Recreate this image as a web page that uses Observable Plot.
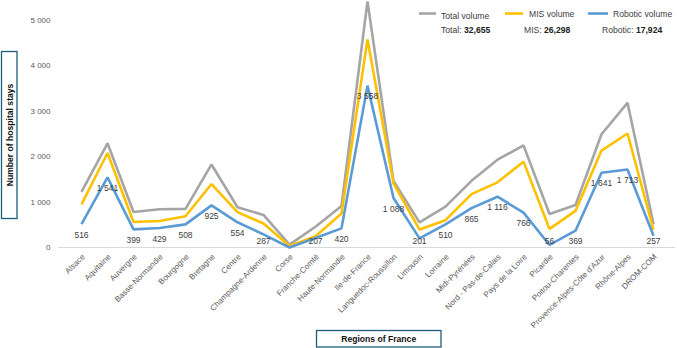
<!DOCTYPE html>
<html>
<head>
<meta charset="utf-8">
<script src="https://cdn.jsdelivr.net/npm/d3@7"></script>
<script src="https://cdn.jsdelivr.net/npm/@observablehq/plot@0.6"></script>
<style>
  html, body { margin: 0; padding: 0; background: #fff; }
  #chart { width: 677px; height: 348px; }
</style>
</head>
<body>
<div id="chart"></div>
<script>
// Hospital stays per region of France, by surgical approach
const regions = [
  "Alsace", "Aquitaine", "Auvergne", "Basse-Normandie", "Bourgogne", "Bretagne",
  "Centre", "Champagne-Ardenne", "Corse", "Franche-Comté", "Haute-Normandie",
  "Ile-de-France", "Languedoc-Roussillon", "Limousin", "Lorraine", "Midi-Pyrénées",
  "Nord - Pas-de-Calais", "Pays de la Loire", "Picardie", "Poitou-Charentes",
  "Provence-Alpes-Côte d'Azur", "Rhône-Alpes", "DROM-COM"
];
const totalVolume = [
  1225, 2290, 780, 840, 848, 1825, 885, 715, 62, 455, 912,
  5410, 1465, 552, 898, 1465, 1930, 2245, 735, 935, 2488, 3180, 515
];
const misVolume = [
  949, 2077, 562, 584, 688, 1395, 777, 527, 34, 247, 748,
  4574, 1410, 394, 600, 1174, 1432, 1887, 408, 805, 2130, 2506, 390
];
const roboticVolume = [
  516, 1541, 399, 429, 508, 925, 554, 287, 0, 207, 420,
  3558, 1088, 201, 510, 865, 1116, 766, 56, 369, 1641, 1713, 257
];
const seriesNames = ["Total volume", "MIS volume", "Robotic volume"];
const seriesShort = ["Total", "MIS", "Robotic"];
const seriesTotals = [32655, 26298, 17924];
const seriesColors = ["#a5a5a5", "#ffc000", "#5b9bd5"];
const yTicks = [0, 1000, 2000, 3000, 4000, 5000];

const seriesValues = [totalVolume, misVolume, roboticVolume];
const rows = seriesNames.flatMap((name, s) =>
  regions.map((region, i) => ({ region, series: name, value: seriesValues[s][i] }))
);
const roboticRows = rows.filter(d => d.series === "Robotic volume" && d.value > 0);

const spaced = d => d3.format(",")(d).replace(/,/g, " ");
const font = "'Liberation Sans', Arial, sans-serif";

const chart = Plot.plot({
  width: 677,
  height: 348,
  marginLeft: 58,
  marginRight: 2,
  marginTop: 19.5,
  marginBottom: 101,
  style: { fontFamily: font, background: "#fff", overflow: "visible" },
  x: { type: "point", domain: regions, padding: 0.5, axis: null },
  y: { domain: [0, 5000], ticks: yTicks },
  color: { domain: seriesNames, range: seriesColors },
  marks: [
    Plot.ruleY([0], { stroke: "#d9d9d9", strokeWidth: 1 }),
    Plot.line(rows, {
      x: "region", y: "value", z: "series", stroke: "series",
      strokeWidth: 2.6, strokeLinejoin: "miter", strokeLinecap: "butt"
    }),
    // Robotic counts sit just under each point, kept clear of the baseline
    Plot.text(roboticRows, {
      x: "region",
      y: d => Math.max(d.value - 240, 130),
      text: d => spaced(d.value),
      fontSize: 8.5,
      fill: "#404040"
    }),
    Plot.axisY({
      ticks: yTicks, tickSize: 0, tickPadding: 8, label: null,
      tickFormat: spaced, fontSize: 8, fill: "#595959"
    }),
    // Region names, slanted and ending just under each category
    Plot.text(regions, {
      x: d => d, frameAnchor: "bottom",
      rotate: -45, textAnchor: "end", lineAnchor: "middle",
      dx: 2, dy: 8,
      fontSize: 8, fill: "#595959"
    })
  ]
});

const svg = d3.select(chart);

// Axis title boxes
const yBox = svg.append("g");
yBox.append("rect")
  .attr("x", 1.5).attr("y", 51.5).attr("width", 15.5).attr("height", 167)
  .attr("fill", "#fff").attr("stroke", "#1f5c7a").attr("stroke-width", 1.3);
yBox.append("text")
  .attr("transform", "translate(9.5,135) rotate(-90)")
  .attr("text-anchor", "middle").attr("dominant-baseline", "central")
  .attr("font-family", font).attr("font-size", 8.6).attr("font-weight", "bold")
  .attr("fill", "#111").text("Number of hospital stays");

const xBox = svg.append("g");
xBox.append("rect")
  .attr("x", 316.5).attr("y", 330.5).attr("width", 124.5).attr("height", 16.5)
  .attr("fill", "#fff").attr("stroke", "#1f5c7a").attr("stroke-width", 1.3);
xBox.append("text")
  .attr("x", 378.7).attr("y", 339)
  .attr("text-anchor", "middle").attr("dominant-baseline", "central")
  .attr("font-family", font).attr("font-size", 8.6).attr("font-weight", "bold")
  .attr("fill", "#111").text("Regions of France");

// Legend with series totals
const legendX = [[419, 436, 441], [505, 523, 529], [588, 608, 613]];
const totalX = [441, 524, 602];
const legend = svg.append("g")
  .attr("font-family", font).attr("font-size", 8.6).attr("fill", "#404040")
  .attr("text-anchor", "start");
seriesNames.forEach((name, i) => {
  const [x0, x1, tx] = legendX[i];
  legend.append("line")
    .attr("x1", x0).attr("x2", x1).attr("y1", 13.5).attr("y2", 13.5)
    .attr("stroke", seriesColors[i]).attr("stroke-width", 2.6);
  legend.append("text")
    .attr("x", tx).attr("y", i === 0 ? 16 : 14).attr("dominant-baseline", "central")
    .attr("text-anchor", "start")
    .text(name);
  const t = legend.append("text")
    .attr("x", totalX[i]).attr("y", 29.5).attr("dominant-baseline", "central")
    .attr("text-anchor", "start");
  t.append("tspan").text(seriesShort[i] + ": ");
  t.append("tspan").attr("font-weight", "bold").attr("fill", "#222")
    .text(d3.format(",")(seriesTotals[i]));
});

document.getElementById("chart").appendChild(chart);
</script>
</body>
</html>
